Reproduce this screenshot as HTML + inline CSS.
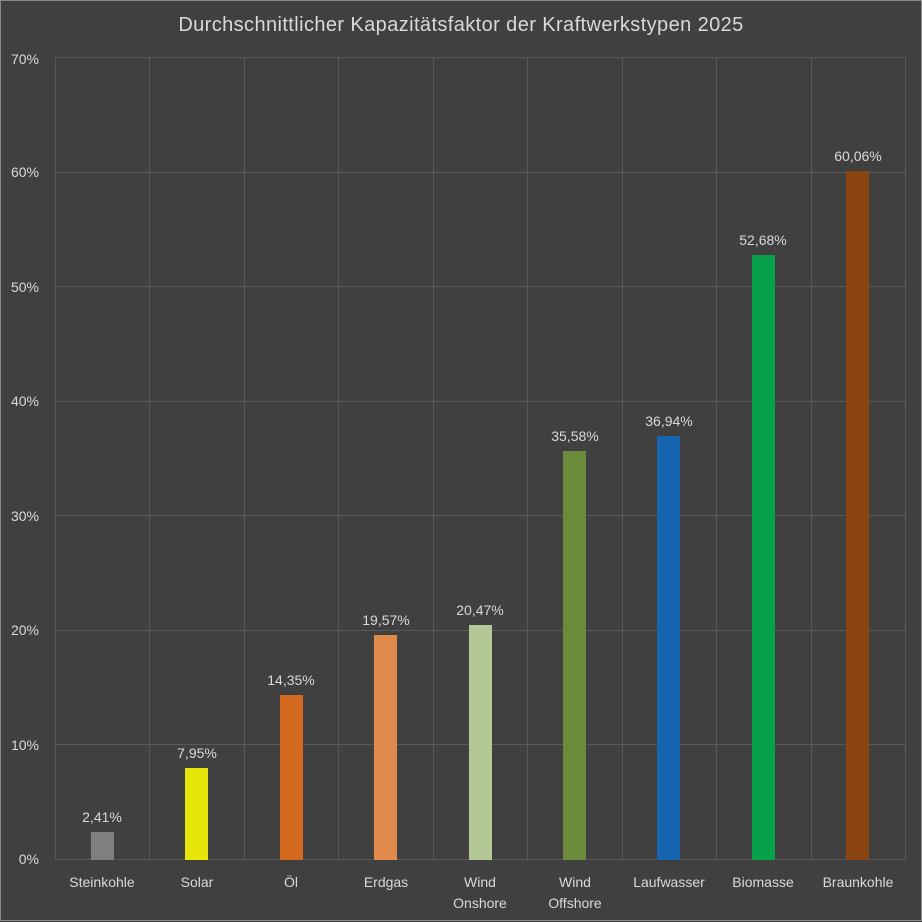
<!DOCTYPE html>
<html><head><meta charset="utf-8"><style>
html,body{margin:0;padding:0;background:#404040;}
svg{display:block;}
text{font-family:"Liberation Sans","DejaVu Sans",sans-serif;fill:#d9d9d9;}
</style></head><body>
<svg width="922" height="922" viewBox="0 0 922 922" xmlns="http://www.w3.org/2000/svg">
<rect x="0" y="0" width="922" height="922" fill="#404040"/>
<rect x="0.5" y="0.5" width="921" height="920" fill="none" stroke="#8a8a8a" stroke-width="1"/>
<g stroke="#595959" stroke-width="1">
<line x1="55" y1="57.5" x2="905" y2="57.5"/>
<line x1="55" y1="172.5" x2="905" y2="172.5"/>
<line x1="55" y1="286.5" x2="905" y2="286.5"/>
<line x1="55" y1="401.5" x2="905" y2="401.5"/>
<line x1="55" y1="515.5" x2="905" y2="515.5"/>
<line x1="55" y1="630.5" x2="905" y2="630.5"/>
<line x1="55" y1="744.5" x2="905" y2="744.5"/>
<line x1="55" y1="859.5" x2="905" y2="859.5"/>
<line x1="55.5" y1="57" x2="55.5" y2="860"/>
<line x1="149.5" y1="57" x2="149.5" y2="860"/>
<line x1="244.5" y1="57" x2="244.5" y2="860"/>
<line x1="338.5" y1="57" x2="338.5" y2="860"/>
<line x1="433.5" y1="57" x2="433.5" y2="860"/>
<line x1="527.5" y1="57" x2="527.5" y2="860"/>
<line x1="622.5" y1="57" x2="622.5" y2="860"/>
<line x1="716.5" y1="57" x2="716.5" y2="860"/>
<line x1="811.5" y1="57" x2="811.5" y2="860"/>
<line x1="905.5" y1="57" x2="905.5" y2="860"/>
</g>
<text x="461" y="31" text-anchor="middle" font-size="20" letter-spacing="0.4">Durchschnittlicher Kapazitätsfaktor der Kraftwerkstypen 2025</text>
<g font-size="14" text-anchor="end">
<text x="39" y="64">70%</text>
<text x="39" y="177">60%</text>
<text x="39" y="292">50%</text>
<text x="39" y="406">40%</text>
<text x="39" y="521">30%</text>
<text x="39" y="635">20%</text>
<text x="39" y="750">10%</text>
<text x="39" y="864">0%</text>
</g>
<g>
<rect x="91" y="832" width="23" height="28" fill="#7f7f7f"/>
<rect x="185" y="768" width="23" height="92" fill="#e6e60a"/>
<rect x="280" y="695" width="23" height="165" fill="#d2691e"/>
<rect x="374" y="635" width="23" height="225" fill="#e08a4c"/>
<rect x="469" y="625" width="23" height="235" fill="#b4c896"/>
<rect x="563" y="451" width="23" height="409" fill="#6b8a3a"/>
<rect x="657" y="436" width="23" height="424" fill="#1565b0"/>
<rect x="752" y="255" width="23" height="605" fill="#08a04a"/>
<rect x="846" y="171" width="23" height="689" fill="#8b4513"/>
</g>
<g font-size="14" text-anchor="middle">
<text x="102" y="822">2,41%</text>
<text x="197" y="758">7,95%</text>
<text x="291" y="685">14,35%</text>
<text x="386" y="625">19,57%</text>
<text x="480" y="615">20,47%</text>
<text x="575" y="441">35,58%</text>
<text x="669" y="426">36,94%</text>
<text x="763" y="245">52,68%</text>
<text x="858" y="161">60,06%</text>
</g>
<g font-size="14" text-anchor="middle">
<text x="102" y="887">Steinkohle</text>
<text x="197" y="887">Solar</text>
<text x="291" y="887">Öl</text>
<text x="386" y="887">Erdgas</text>
<text x="480" y="887">Wind</text>
<text x="480" y="908">Onshore</text>
<text x="575" y="887">Wind</text>
<text x="575" y="908">Offshore</text>
<text x="669" y="887">Laufwasser</text>
<text x="763" y="887">Biomasse</text>
<text x="858" y="887">Braunkohle</text>
</g>
</svg>
</body></html>
